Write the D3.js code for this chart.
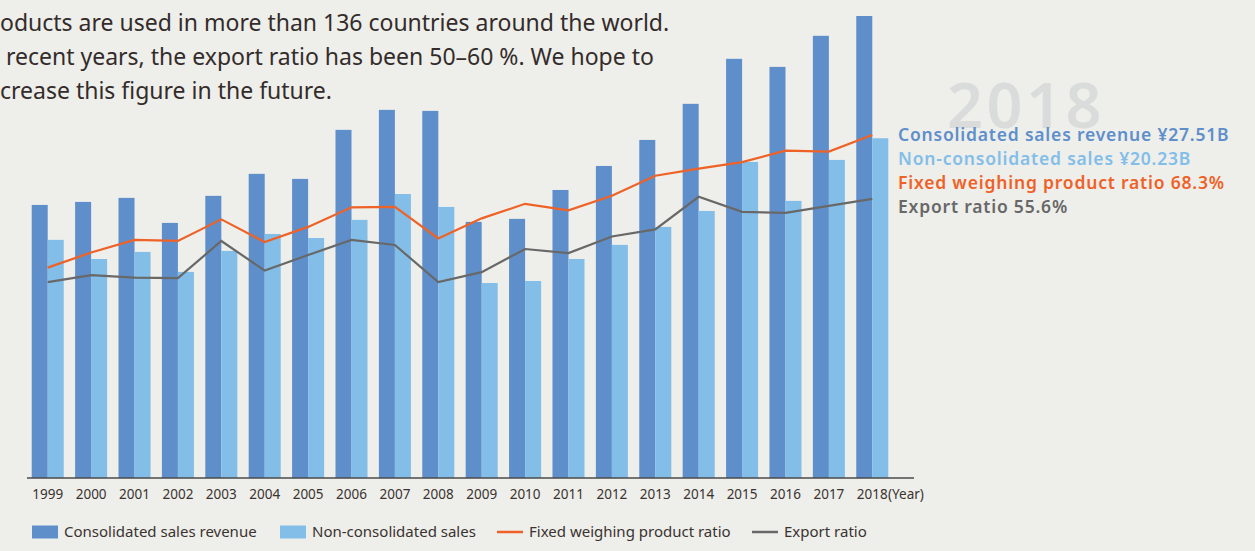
<!DOCTYPE html>
<html>
<head>
<meta charset="utf-8">
<script src="https://cdn.jsdelivr.net/npm/d3@7"></script>
<style>
  body { margin: 0; background: #eeeeea; }
  svg { display: block; font-family: "Noto Sans", sans-serif; }
</style>
</head>
<body>
<svg width="1255" height="551"></svg>
<script>
// data
var years = ["1999","2000","2001","2002","2003","2004","2005","2006","2007","2008",
             "2009","2010","2011","2012","2013","2014","2015","2016","2017","2018"];
var consolidated = [16.26,16.44,16.68,15.19,16.80,18.11,17.81,20.73,21.92,21.86,
                    15.25,15.43,17.15,18.58,20.13,22.28,24.96,24.48,26.33,27.51];
var nonConsolidated = [14.18,13.04,13.46,12.27,13.52,14.53,14.29,15.37,16.91,16.14,
                       11.61,11.73,13.04,13.88,14.95,15.90,18.82,16.50,18.94,20.23];
var fixedRatio = [41.9,44.9,47.4,47.2,51.5,47.0,50.0,53.9,54.0,47.7,
                  51.7,54.6,53.3,56.2,60.2,61.6,62.9,65.2,65.0,68.3];
var exportRatio = [39.0,40.4,39.9,39.8,47.2,41.3,44.4,47.4,46.4,39.0,
                   41.0,45.6,44.8,48.1,49.5,56.0,53.0,52.8,54.2,55.6];
var introLines = [
  "oducts are used in more than 136 countries around the world.",
  " recent years, the export ratio has been 50\u201360 %. We hope to",
  "crease this figure in the future."
];
var legendItems = ["Consolidated sales revenue", "Non-consolidated sales",
                   "Fixed weighing product ratio", "Export ratio"];
var latest = ["Consolidated sales revenue \u00a527.51B", "Non-consolidated sales \u00a520.23B",
              "Fixed weighing product ratio 68.3%", "Export ratio 55.6%"];

var colors = ["#5f8fcb", "#83bee9", "#ee6228", "#686868"];

var svg = d3.select("svg");

var x = d3.scaleBand()
    .domain(years)
    .range([26.5, 893.5])
    .paddingInner(0.262)
    .paddingOuter(0.12);

var sub = d3.scaleBand()
    .domain(["c", "n"])
    .range([0, x.bandwidth()]);

var y = d3.scaleLinear().domain([0, 27.51]).range([478, 16]);
var yr = d3.scaleLinear().domain([0, 92]).range([478, 16]);

// big watermark year
svg.append("text")
    .attr("x", 947).attr("y", 128)
    .style("font-size", "63px")
    .style("font-weight", 600)
    .style("letter-spacing", "3.5px")
    .style("fill", "#dadcdc")
    .text("2018");

// intro text
svg.selectAll(".intro")
    .data(introLines)
  .enter().append("text")
    .attr("class", "intro")
    .attr("x", 0)
    .attr("y", function(d, i) { return 31 + i * 34; })
    .style("font-size", "23px")
    .style("fill", "#332c2a")
    .attr("xml:space", "preserve")
    .text(function(d) { return d; });

var group = svg.selectAll(".year")
    .data(years)
  .enter().append("g")
    .attr("class", "year")
    .attr("transform", function(d) { return "translate(" + x(d) + ",0)"; });

group.append("rect")
    .attr("x", sub("c"))
    .attr("width", sub.bandwidth())
    .attr("y", function(d, i) { return y(consolidated[i]); })
    .attr("height", function(d, i) { return y(0) - y(consolidated[i]); })
    .style("fill", colors[0]);

group.append("rect")
    .attr("x", sub("n"))
    .attr("width", sub.bandwidth())
    .attr("y", function(d, i) { return y(nonConsolidated[i]); })
    .attr("height", function(d, i) { return y(0) - y(nonConsolidated[i]); })
    .style("fill", colors[1]);

var line = d3.line()
    .x(function(d, i) { return x(years[i]) + x.bandwidth() / 2; })
    .y(function(d) { return yr(d); });

svg.append("path")
    .datum(exportRatio)
    .attr("d", line)
    .style("fill", "none")
    .style("stroke", colors[3])
    .style("stroke-width", 2.2);

svg.append("path")
    .datum(fixedRatio)
    .attr("d", line)
    .style("fill", "none")
    .style("stroke", colors[2])
    .style("stroke-width", 2.2);

// x axis
var xAxis = svg.append("g")
    .attr("transform", "translate(0,478)")
    .call(d3.axisBottom(x).tickSize(0).tickPadding(11));
xAxis.select(".domain").remove();
xAxis.append("line")
    .attr("x1", 27).attr("x2", 914)
    .style("stroke", "#4a4a4a")
    .style("stroke-width", 1.3);
xAxis.selectAll(".tick text")
    .style("font-family", "Noto Sans, sans-serif")
    .style("font-size", "13.5px")
    .style("fill", "#3a3330");
xAxis.append("text")
    .attr("x", 888).attr("y", 21)
    .attr("text-anchor", "start")
    .style("font-family", "Noto Sans, sans-serif")
    .style("font-size", "13.5px")
    .style("fill", "#3a3330")
    .text("(Year)");

// 2018 values on the right
svg.selectAll(".latest")
    .data(latest)
  .enter().append("text")
    .attr("class", "latest")
    .attr("x", 898)
    .attr("y", function(d, i) { return 140.5 + i * 24; })
    .style("font-size", "17.5px")
    .style("font-weight", 600)
    .style("letter-spacing", "0.8px")
    .style("fill", function(d, i) { return colors[i]; })
    .text(function(d) { return d; });

// legend
var legendX = [32, 280, 497, 752];
var legend = svg.selectAll(".legend")
    .data(legendItems)
  .enter().append("g")
    .attr("class", "legend")
    .attr("transform", function(d, i) { return "translate(" + legendX[i] + ",532)"; });

legend.filter(function(d, i) { return i < 2; })
  .append("rect")
    .attr("x", 0).attr("y", -6.5)
    .attr("width", 26).attr("height", 13)
    .style("fill", function(d, i) { return colors[i]; });

legend.filter(function(d, i) { return i >= 2; })
  .append("line")
    .attr("x1", 0).attr("x2", 26)
    .style("stroke", function(d, i) { return colors[i + 2]; })
    .style("stroke-width", 2.5);

legend.append("text")
    .attr("x", function(d, i) { return i < 2 ? 32 : 32; })
    .attr("dy", "0.35em")
    .style("font-size", "15px")
    .style("fill", "#3a3330")
    .text(function(d) { return d; });
</script>
</body>
</html>
